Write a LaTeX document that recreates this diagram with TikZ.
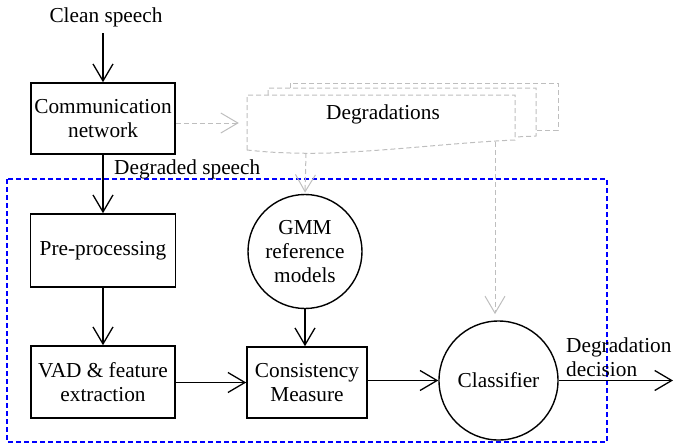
\documentclass[tikz,border=0pt]{standalone}
\usepackage{fontspec}
\setmainfont{Liberation Serif}
\usetikzlibrary{arrows.meta,calc}
\definecolor{lgray}{RGB}{190,190,190}
\begin{document}
\begin{tikzpicture}[x=1pt,y=-1pt,
  every node/.style={font=\rmfamily\fontsize{21.3pt}{24pt}\selectfont, inner sep=0pt},
  box/.style={draw, line width=1.6pt, align=center},
  circ/.style={draw, circle, line width=1.4pt, align=center},
  arr/.style={line width=1.3pt, -{Straight Barb[length=17pt,width=20pt,line width=1.3pt]}},
  garr/.style={draw=lgray, line width=1pt, dash pattern=on 5pt off 3pt, -{Straight Barb[length=17pt,width=20pt,line width=1pt,sep]}},
  gshape/.style={draw=lgray, line width=1pt, dash pattern=on 5pt off 3pt},
  bluebox/.style={draw=blue, line width=1.2pt, dash pattern=on 5pt off 3pt}]
\useasboundingbox (0,0) rectangle (675,445);

% blue dashed region
\draw[bluebox] (7,179) rectangle (607,442);

% Degradations stacked document shape
\draw[gshape] (290,88) -- (290,83) -- (558,83) -- (558,130) -- (536,130);
\draw[gshape] (268,95) -- (268,88) -- (536,88) -- (536,136) -- (515,137);
\draw[gshape] (247,150) -- (247,95) -- (515,95) -- (515,140)
  .. controls (450,143) and (400,150) .. (330,153)
  .. controls (290,154) and (265,152) .. (247,150);
\node (deg) at (383,114) {Degradations};
\coordinate (degL) at (247,123);
\coordinate (degB1) at (306,153);
\coordinate (degB2) at (495,142);

\node (clean) at (106,17) {Clean speech};
\node[box, minimum width=144pt, minimum height=71pt] (comm) at (103,118.5) {Communication\\network};
\node[anchor=west] (dspeech) at (114,169) {Degraded speech};
\node[box, minimum width=145pt, minimum height=73pt] (pre) at (103,250.5) {Pre-processing};
\node[box, minimum width=144pt, minimum height=72pt] (vad) at (103,382) {VAD \& feature\\extraction};
\node[circ, minimum size=114pt] (gmm) at (305,251.5) {GMM\\reference\\models};
\node[box, minimum width=120pt, minimum height=71pt] (cons) at (307,382.5) {Consistency\\Measure};
\node[circ, minimum size=119pt] (cls) at (498.5,380.5) {Classifier};
\node[anchor=west, align=left] (dec) at (566,357) {Degradation\\decision};
\coordinate (out) at (673,380.5);

% connectors
\draw[arr] (comm.north |- 0,33) -- (comm.north);
\draw[arr] (comm.south) -- (comm.south |- pre.north);
\draw[arr] (pre.south) -- (pre.south |- vad.north);
\draw[arr] (vad.east |- cons.west) -- (cons.west);
\draw[arr] (gmm.south) -- (gmm.south |- cons.north);
\draw[arr] (cons.east |- cls.west) -- (cls.west);
\draw[arr] (cls.east) -- (out);

\draw[garr, shorten >=7pt] (comm.east |- degL) -- (degL);
\draw[garr] (degB1) -- (gmm.north);
\draw[garr, shorten >=5pt] (degB2) -- (degB2 |- cls.north);
\end{tikzpicture}
\end{document}
